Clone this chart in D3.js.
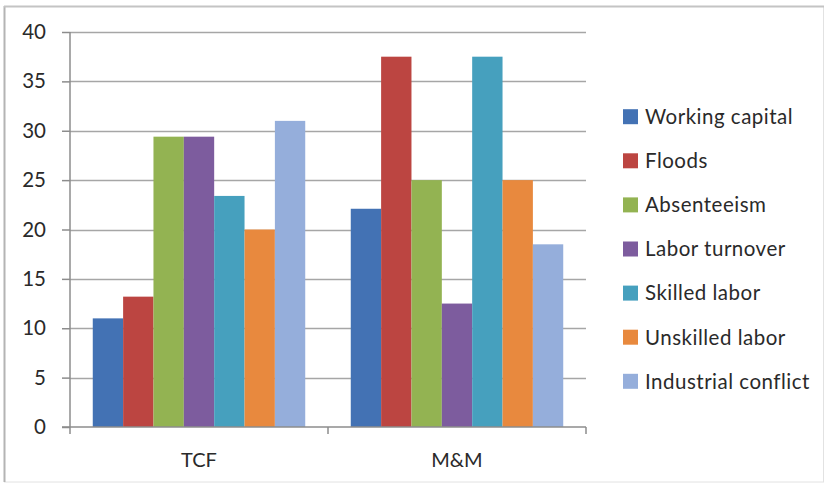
<!DOCTYPE html>
<html>
<head>
<meta charset="utf-8">
<script src="https://cdn.jsdelivr.net/npm/d3@7"></script>
<style>
  html, body { margin: 0; padding: 0; background: #fff; }
  svg { display: block; }
  text { font-family: Lato, "Open Sans", sans-serif; fill: #2a2a2a; }
</style>
</head>
<body>
<svg id="chart" width="831" height="486"></svg>
<script>
// Categories (companies) and the risk factors shown for each
const categories = ["TCF", "M&M"];
const seriesNames = [
  "Working capital", "Floods", "Absenteeism", "Labor turnover",
  "Skilled labor", "Unskilled labor", "Industrial conflict"
];
// Values per series, in category order [TCF, M&M]
const workingCapital     = [11.0, 22.1];
const floods             = [13.2, 37.5];
const absenteeism        = [29.4, 25.0];
const laborTurnover      = [29.4, 12.5];
const skilledLabor       = [23.4, 37.5];
const unskilledLabor     = [20.0, 25.0];
const industrialConflict = [31.0, 18.5];
const yTicks = [0, 5, 10, 15, 20, 25, 30, 35, 40];

const seriesValues = [workingCapital, floods, absenteeism, laborTurnover,
                      skilledLabor, unskilledLabor, industrialConflict];
const colors = ["#4372B4", "#BC4541", "#93B352", "#7D5C9E",
                "#46A0BE", "#E8893E", "#95AEDB"];

const svg = d3.select("#chart");

// Outer chart frame
svg.append("rect")
  .attr("x", 4.5).attr("y", 6.5).attr("width", 819).attr("height", 475.5)
  .attr("fill", "#fff").attr("stroke", "#e2e2e2").attr("stroke-width", 1);
svg.append("line").attr("x1", 4.5).attr("x2", 4.5).attr("y1", 6).attr("y2", 482)
  .attr("stroke", "#b4b4b4").attr("stroke-width", 2);
svg.append("line").attr("x1", 4).attr("x2", 824).attr("y1", 6.5).attr("y2", 6.5)
  .attr("stroke", "#c4c4c4").attr("stroke-width", 2);

const plot = { left: 70, right: 586, top: 32, bottom: 427 };

const x0 = d3.scaleBand().domain(categories)
  .range([plot.left, plot.right]).paddingInner(0).paddingOuter(0);
// 150% gap width: cluster of 7 bars plus 1.5 bar widths of gap per category
const x1 = d3.scaleBand().domain(d3.range(seriesNames.length))
  .range([0, x0.bandwidth()]).paddingInner(0).paddingOuter(0.75);
const y = d3.scaleLinear().domain([0, 40]).range([plot.bottom, plot.top]);

// Horizontal gridlines
svg.append("g").selectAll("line").data(yTicks.filter(t => t > 0)).join("line")
  .attr("x1", plot.left).attr("x2", plot.right)
  .attr("y1", d => Math.round(y(d)) + 0.5).attr("y2", d => Math.round(y(d)) + 0.5)
  .attr("stroke", "#a6a6a6").attr("stroke-width", 1.5);

// Bars
const groups = svg.append("g").selectAll("g").data(categories).join("g")
  .attr("transform", d => `translate(${x0(d)},0)`);
groups.selectAll("rect")
  .data((c, ci) => seriesValues.map((vals, si) => ({ si, v: vals[ci] })))
  .join("rect")
  .attr("x", d => x1(d.si)).attr("width", x1.bandwidth())
  .attr("y", d => y(d.v)).attr("height", d => y(0) - y(d.v))
  .attr("fill", d => colors[d.si]);

// Y axis
const yAxis = svg.append("g")
  .attr("transform", `translate(${plot.left},0)`)
  .call(d3.axisLeft(y).tickValues(yTicks).tickSize(8).tickPadding(16));
yAxis.select(".domain").attr("stroke", "#8c8c8c").attr("stroke-width", 1.5)
  .attr("d", `M0,${plot.top}V${plot.bottom}`);
yAxis.selectAll(".tick line").attr("stroke", "#8c8c8c").attr("stroke-width", 1.5);
yAxis.selectAll(".tick text").attr("font-size", 20.5).attr("fill", "#2a2a2a")
  .attr("font-family", "Lato, sans-serif");

// X axis with tick marks at category boundaries
const xAxis = svg.append("g").attr("transform", `translate(0,${plot.bottom})`);
xAxis.append("line").attr("x1", plot.left - 8).attr("x2", plot.right)
  .attr("y1", 0).attr("y2", 0).attr("stroke", "#8c8c8c").attr("stroke-width", 1.5);
const bounds = categories.map(c => x0(c)).concat([plot.right]);
xAxis.selectAll(".bt").data(bounds).join("line")
  .attr("x1", d => d).attr("x2", d => d).attr("y1", 0).attr("y2", 7)
  .attr("stroke", "#8c8c8c").attr("stroke-width", 1.5);
xAxis.selectAll(".cl").data(categories).join("text")
  .attr("x", d => x0(d) + x0.bandwidth() / 2).attr("y", 40)
  .attr("text-anchor", "middle").attr("font-size", 20)
  .text(d => d);

// Legend
const legend = svg.append("g").selectAll("g").data(seriesNames).join("g")
  .attr("transform", (d, i) => `translate(623,${116.7 + i * 44.1})`);
legend.append("rect").attr("x", 0).attr("y", -7.5).attr("width", 15).attr("height", 15)
  .attr("fill", (d, i) => colors[i]);
legend.append("text").attr("x", 22).attr("y", 0).attr("dy", "0.36em")
  .attr("font-size", 20.5).attr("letter-spacing", 0.5).text(d => d);
</script>
</body>
</html>
